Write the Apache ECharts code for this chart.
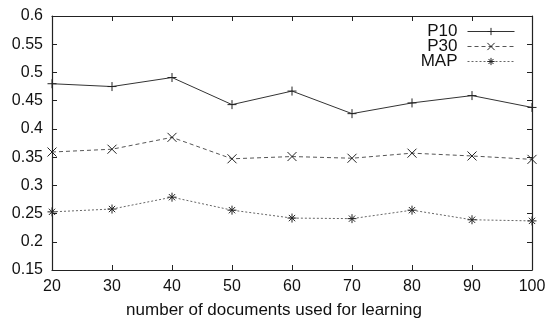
<!DOCTYPE html>
<html><head><meta charset="utf-8">
<script src="https://cdn.jsdelivr.net/npm/echarts@6/dist/echarts.min.js"></script>
<style>html,body{margin:0;padding:0;background:#fff}#c{width:550px;height:324px}</style>
</head><body><div id="c"></div>
<script>
const docs = [20, 30, 40, 50, 60, 70, 80, 90, 100];
const p10 = [0.480, 0.475, 0.491, 0.443, 0.467, 0.427, 0.446, 0.459, 0.438];
const p30 = [0.359, 0.364, 0.385, 0.347, 0.351, 0.348, 0.357, 0.352, 0.346];
const map = [0.253, 0.258, 0.279, 0.256, 0.242, 0.241, 0.256, 0.239, 0.237];
const seriesNames = ['P10', 'P30', 'MAP'];
const xTitle = 'number of documents used for learning';

const FONT = 'Liberation Sans, Arial, sans-serif';
const pair = arr => docs.map((d, i) => [d, arr[i]]);
const symPlus = 'path://M0,5L10,5M5,0L5,10';
const symCross = 'path://M0,0L10,10M10,0L0,10';
const symStar = 'path://M0,5L10,5M5,0L5,10M1.5,1.5L8.5,8.5M8.5,1.5L1.5,8.5';

const axisBase = {
  type: 'value', min: 20, max: 100, interval: 10,
  axisLine: {lineStyle: {color: '#222', width: 1.2}},
  axisTick: {inside: true, length: 5, lineStyle: {color: '#222'}},
  splitLine: {show: false}
};
const yBase = {
  type: 'value', min: 0.15, max: 0.6, interval: 0.05,
  axisLine: {show: true, lineStyle: {color: '#222', width: 1.2}},
  axisTick: {show: true, inside: true, length: 5, lineStyle: {color: '#222'}},
  splitLine: {show: false}
};
function mk(name, arr, sym, type, color) {
  return {
    name, type: 'line', data: pair(arr), symbol: sym, symbolSize: 9,
    xAxisIndex: 0, yAxisIndex: 0,
    lineStyle: {color, width: 1, type},
    itemStyle: {color: 'none', borderColor: '#222', borderWidth: 1},
    emphasis: {disabled: true}, animation: false
  };
}
const chart = echarts.init(document.getElementById('c'));
chart.setOption({
  animation: false,
  grid: {left: 52, right: 18, top: 16, bottom: 49},
  legend: {
    orient: 'vertical', right: 30, top: 18, align: 'right',
    itemWidth: 47, itemHeight: 9, itemGap: -2,
    lineStyle: {width: 1},
    itemStyle: {borderWidth: 1},
    textStyle: {fontFamily: FONT, fontSize: 17, lineHeight: 14, color: '#111', padding: [0, 5, 0, 0]},
    data: seriesNames
  },
  xAxis: [
    Object.assign({}, axisBase, {position: 'bottom',
      axisLabel: {fontFamily: FONT, fontSize: 16, color: '#111', margin: 9},
      name: xTitle, nameLocation: 'middle', nameGap: 32,
      nameTextStyle: {fontFamily: FONT, fontSize: 17, color: '#111', padding: [0, 36, 0, 0]}}),
    Object.assign({}, axisBase, {position: 'top', axisLabel: {show: false}})
  ],
  yAxis: [
    Object.assign({}, yBase, {position: 'left',
      axisLabel: {fontFamily: FONT, fontSize: 16, color: '#111', margin: 9,
        formatter: v => String(+v.toFixed(2))}}),
    Object.assign({}, yBase, {position: 'right', axisLabel: {show: false}})
  ],
  series: [
    mk('P10', p10, symPlus, 'solid', '#333'),
    mk('P30', p30, symCross, [4, 3], '#555'),
    mk('MAP', map, symStar, [2, 2], '#666')
  ]
});
</script></body></html>
